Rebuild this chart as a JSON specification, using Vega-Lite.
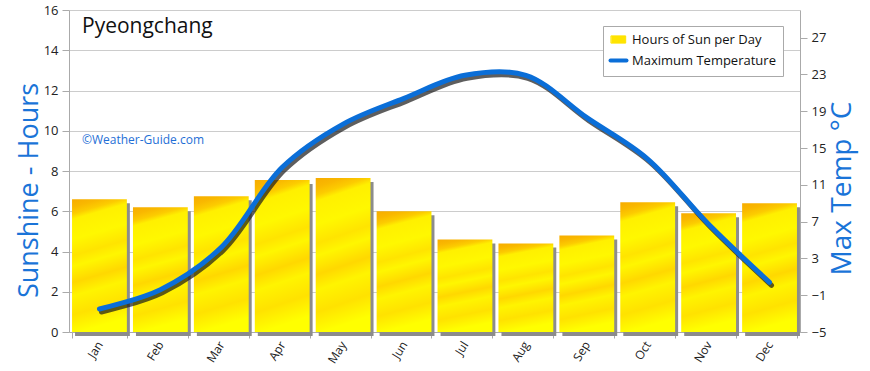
{
  "$schema": "https://vega.github.io/schema/vega-lite/v6.json",
  "width": 731,
  "height": 322,
  "autosize": {"type": "none"},
  "padding": {"left": 69, "top": 10, "right": 70, "bottom": 39},
  "background": "white",
  "config": {
    "font": "Open Sans",
    "view": {"stroke": null},
    "axis": {
      "domainColor": "#aaaaaa",
      "tickColor": "#aaaaaa",
      "labelColor": "#222222",
      "labelFontSize": 13,
      "gridColor": "#cccccc",
      "tickSize": 7
    },
    "axisX": {"labelAngle": -58, "labelFontSize": 12, "tickBand": "extent", "tickSize": 6, "title": null, "grid": false, "labelPadding": 4},
    "axisLeft": {"grid": true, "labelPadding": 4},
    "axisRight": {"grid": false, "labelPadding": 4}
  },
  "title": {
    "text": "Pyeongchang",
    "subtitle": "©Weather-Guide.com",
    "anchor": "start",
    "frame": "group",
    "fontSize": 21,
    "fontWeight": "normal",
    "color": "#111111",
    "subtitleColor": "#1f6fd6",
    "subtitleFontSize": 12,
    "subtitlePadding": 98,
    "offset": 0,
    "dx": 13,
    "dy": 142
  },
  "data": {
    "values": [
      {"month": "Jan", "sun": 6.6, "temp": -2.5},
      {"month": "Feb", "sun": 6.2, "temp": -0.4},
      {"month": "Mar", "sun": 6.75, "temp": 4.2},
      {"month": "Apr", "sun": 7.55, "temp": 12.9},
      {"month": "May", "sun": 7.65, "temp": 17.6},
      {"month": "Jun", "sun": 6.0, "temp": 20.4},
      {"month": "Jul", "sun": 4.6, "temp": 22.9},
      {"month": "Aug", "sun": 4.4, "temp": 22.9},
      {"month": "Sep", "sun": 4.8, "temp": 18.3},
      {"month": "Oct", "sun": 6.45, "temp": 13.8},
      {"month": "Nov", "sun": 5.9, "temp": 6.7},
      {"month": "Dec", "sun": 6.4, "temp": 0.4}
    ]
  },
  "encoding": {
    "x": {"field": "month", "type": "ordinal", "sort": null, "scale": {"paddingInner": 0.1, "paddingOuter": 0.05}}
  },
  "layer": [
    {
      "layer": [
        {
          "mark": {"type": "bar", "color": "#8c8c8c", "xOffset": 3, "yOffset": 4},
          "encoding": {
            "y": {"field": "sun", "type": "quantitative", "scale": {"domain": [0, 16]},
              "axis": {"orient": "left", "values": [0, 2, 4, 6, 8, 10, 12, 14, 16], "title": "Sunshine - Hours", "titleColor": "#1a74d8", "titleFontSize": 27, "titleFontWeight": "normal", "titleAngle": -90, "titleBaseline": "alphabetic", "titleAlign": "center", "titleX": -32, "titleY": 180}}
          }
        },
        {
          "mark": {"type": "bar", "color": {"gradient": "linear", "x1": 0, "y1": 0, "x2": 0.12, "y2": 1, "stops": [
            {"offset": 0, "color": "#f7ac00"},
            {"offset": 0.06, "color": "#f9b800"},
            {"offset": 0.11, "color": "#fccc00"},
            {"offset": 0.15, "color": "#fff000"},
            {"offset": 0.3, "color": "#fff800"},
            {"offset": 0.42, "color": "#ffe400"},
            {"offset": 0.5, "color": "#fff600"},
            {"offset": 0.62, "color": "#ffd800"},
            {"offset": 0.72, "color": "#fff400"},
            {"offset": 0.86, "color": "#ffe200"},
            {"offset": 1, "color": "#ffff00"}
          ]}},
          "encoding": {
            "y": {"field": "sun", "type": "quantitative"}
          }
        }
      ]
    },
    {
      "layer": [
        {
          "mark": {"type": "line", "color": "#1a1a1a", "strokeWidth": 5, "interpolate": "catmull-rom", "xOffset": 2, "yOffset": 3, "opacity": 0.7, "strokeCap": "round"},
          "encoding": {
            "y": {"field": "temp", "type": "quantitative", "scale": {"domain": [-5, 30]},
              "axis": {"orient": "right", "values": [-5, -1, 3, 7, 11, 15, 19, 23, 27], "title": "Max Temp °C", "titleColor": "#1a74d8", "titleFontSize": 28, "titleFontWeight": "normal", "titleAngle": -90, "titleBaseline": "alphabetic", "titleAlign": "center", "titleX": 50, "titleY": 178}}
          }
        },
        {
          "mark": {"type": "line", "strokeWidth": 5, "interpolate": "catmull-rom", "strokeCap": "round"},
          "encoding": {
            "y": {"field": "temp", "type": "quantitative"},
            "color": {
              "datum": "Maximum Temperature",
              "scale": {"domain": ["Hours of Sun per Day", "Maximum Temperature"], "range": ["#ffe400", "#0a6ed8"]},
              "legend": {
                "orient": "none", "legendX": 534, "legendY": 16, "title": null,
                "fillColor": "white", "strokeColor": "#aaaaaa", "padding": 7,
                "labelFontSize": 13, "labelColor": "#111111", "symbolSize": 256, "rowPadding": 5, "symbolStrokeWidth": 4,
                "symbolOffset": 2, "labelOffset": 7,
                "encode": {"symbols": {"update": {
                  "shape": {"signal": "datum.value === 'Maximum Temperature' ? 'stroke' : 'M-0.9,-0.45H0.9V0.45H-0.9Z'"},
                  "fill": {"signal": "datum.value === 'Maximum Temperature' ? 'transparent' : '#ffe400'"},
                  "stroke": {"signal": "datum.value === 'Maximum Temperature' ? '#0a6ed8' : '#f5c000'"},
                  "strokeWidth": {"signal": "datum.value === 'Maximum Temperature' ? 4 : 1"},
                  "strokeCap": {"value": "round"}
                }}}
              }
            }
          }
        }
      ]
    }
  ],
  "resolve": {"scale": {"y": "independent"}}
}
